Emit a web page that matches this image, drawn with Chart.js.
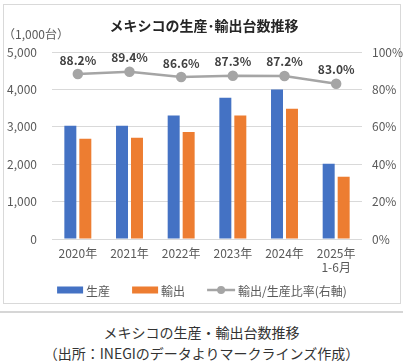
<!DOCTYPE html>
<html><head><meta charset="utf-8">
<script src="https://cdn.jsdelivr.net/npm/chart.js@4"></script>
<style>
html,body{margin:0;padding:0;background:#fff;}
#wrap{position:relative;width:403px;height:362px;overflow:hidden;font-family:"Noto Sans CJK JP",sans-serif;}
#box{position:absolute;left:3px;top:4px;width:396px;height:298px;border:1px solid #d9d9d9;}
#cv{position:absolute;left:0;top:0;}
#sep{position:absolute;left:0;top:311px;width:403px;height:0;border-top:2px solid #d6d6d6;}
.cap{position:absolute;left:0;width:403px;text-align:center;font-size:14px;color:#333;line-height:18px;}
</style></head>
<body>
<div id="wrap">
<div id="box"></div>
<canvas id="cv" width="403" height="305"></canvas>
<div id="sep"></div>
<div class="cap" style="top:323px">メキシコの生産・輸出台数推移</div>
<div class="cap" style="top:344px">（出所：INEGIのデータよりマークラインズ作成）</div>
</div>
<script>
const categories = ['2020年','2021年','2022年','2023年','2024年',['2025年','1-6月']];
const production = [3030, 3030, 3300, 3780, 3995, 2010];
const exportsV = [2680, 2710, 2860, 3300, 3485, 1665];
const ratio = [88.2, 89.4, 86.6, 87.3, 87.2, 83.0];
const leftTicks = [0, 1000, 2000, 3000, 4000, 5000];
const rightTicks = [0, 20, 40, 60, 80, 100];
const chartTitle = 'メキシコの生産･輸出台数推移';
const unitLabel = '（1,000台）';
const seriesNames = ['生産', '輸出', '輸出/生産比率(右軸)'];

const FONT = '"Noto Sans CJK JP", sans-serif';

const decor = {
  id: 'decor',
  afterDraw(chart) {
    const ctx = chart.ctx;
    ctx.save();
    ctx.fillStyle = '#262626';
    ctx.font = 'bold 14px ' + FONT;
    ctx.textAlign = 'center';
    ctx.textBaseline = 'middle';
    ctx.fillText(chartTitle, 204, 26);
    ctx.font = '12px ' + FONT;
    ctx.fillStyle = '#595959';
    ctx.textAlign = 'left';
    ctx.fillText(unitLabel, 3, 34);
    // legend
    const ds = chart.data.datasets;
    ctx.font = '12px ' + FONT;
    const items = ds.map(d => ({d, w: (d.type === 'line' ? 28 : 26) + 3 + ctx.measureText(d.label).width}));
    const gap = 22;
    const total = items.reduce((a, b) => a + b.w, 0) + gap * (items.length - 1);
    let x = 202 - total / 2;
    const y = 290;
    items.forEach(it => {
      const d = it.d;
      if (d.type === 'line') {
        ctx.strokeStyle = d.borderColor;
        ctx.lineWidth = 2.5;
        ctx.beginPath(); ctx.moveTo(x, y); ctx.lineTo(x + 28, y); ctx.stroke();
        ctx.fillStyle = d.pointBackgroundColor;
        ctx.beginPath(); ctx.arc(x + 14, y, 4, 0, Math.PI * 2); ctx.fill();
        x += 31;
      } else {
        ctx.fillStyle = d.backgroundColor;
        ctx.fillRect(x, y - 3.5, 26, 7);
        x += 29;
      }
      ctx.fillStyle = '#595959';
      ctx.textAlign = 'left';
      ctx.fillText(d.label, x, y + 1);
      x += it.w - (d.type === 'line' ? 31 : 29) + gap;
    });
    ctx.restore();
  },
  afterDatasetsDraw(chart) {
    const ctx = chart.ctx;
    chart.data.datasets.forEach((d, i) => {
      if (d.type !== 'line') return;
      const meta = chart.getDatasetMeta(i);
      ctx.save();
      ctx.font = 'bold 12px ' + FONT;
      ctx.fillStyle = '#404040';
      ctx.textAlign = 'center';
      ctx.textBaseline = 'middle';
      meta.data.forEach((p, j) => {
        ctx.fillText(d.data[j].toFixed(1) + '%', p.x, p.y - 14);
      });
      ctx.restore();
    });
  }
};

new Chart(document.getElementById('cv'), {
  type: 'bar',
  data: {
    labels: categories,
    datasets: [
      {label: seriesNames[0], data: production, backgroundColor: '#4472C4', yAxisID: 'y', order: 1,
       categoryPercentage: 0.58, barPercentage: 0.8},
      {label: seriesNames[1], data: exportsV, backgroundColor: '#ED7D31', yAxisID: 'y', order: 1,
       categoryPercentage: 0.58, barPercentage: 0.8},
      {type: 'line', label: seriesNames[2], data: ratio, yAxisID: 'y2', borderColor: '#A5A5A5', backgroundColor: '#A5A5A5',
       pointBackgroundColor: '#A5A5A5', pointBorderColor: '#A5A5A5', pointRadius: 4, borderWidth: 2.5, order: 0}
    ]
  },
  options: {
    responsive: false,
    animation: false,
    devicePixelRatio: 1,
    layout: {padding: {top: 52, bottom: 30, left: 0, right: 0}},
    plugins: {legend: {display: false}, title: {display: false}, tooltip: {enabled: false}},
    scales: {
      x: {
        grid: {display: false, drawTicks: false},
        border: {display: false},
        ticks: {color: '#595959', font: {family: FONT, size: 12}, padding: 7, maxRotation: 0, autoSkip: false},
        afterFit(s) { s.height = 36; }
      },
      y: {
        position: 'left', min: 0, max: 5000,
        afterBuildTicks(s) { s.ticks = leftTicks.map(v => ({value: v})); },
        grid: {color: '#d9d9d9', drawTicks: false},
        border: {display: false},
        ticks: {color: '#595959', font: {family: FONT, size: 12}, padding: 15,
                callback: v => v.toLocaleString('en-US')},
        afterFit(s) { s.width = 52; }
      },
      y2: {
        position: 'right', min: 0, max: 100,
        afterBuildTicks(s) { s.ticks = rightTicks.map(v => ({value: v})); },
        grid: {display: false, drawTicks: false},
        border: {display: false},
        ticks: {color: '#595959', font: {family: FONT, size: 12}, padding: 10,
                callback: v => v + '%'},
        afterFit(s) { s.width = 41; }
      }
    }
  },
  plugins: [decor]
});
</script>
</body></html>
